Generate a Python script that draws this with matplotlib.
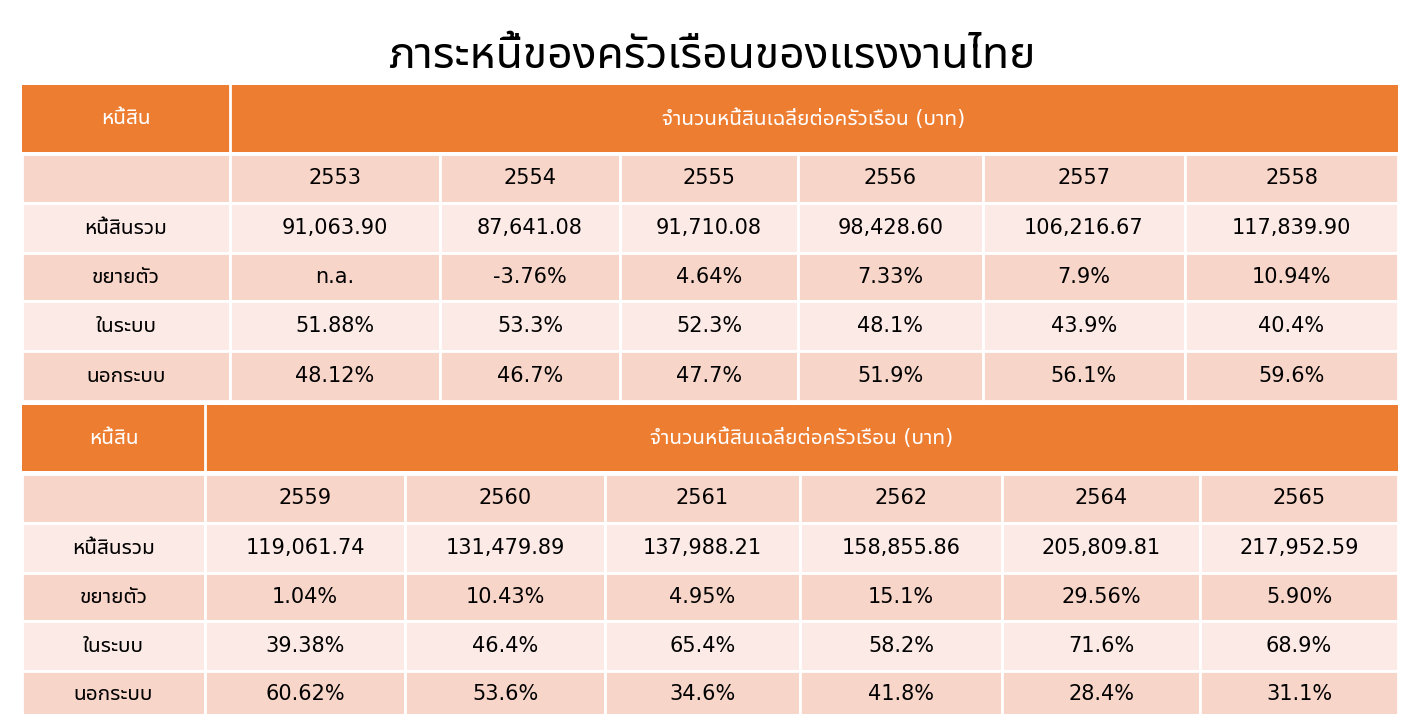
import matplotlib
matplotlib.use("Agg")
import matplotlib.pyplot as plt
from matplotlib import font_manager
from matplotlib.ft2font import FT2Font
from matplotlib.patches import Rectangle


def find_thai_font():
    # pick an installed font that has Thai glyphs, preferring proportional sans fonts
    found = []
    for path in font_manager.findSystemFonts():
        try:
            cmap = FT2Font(path).get_charmap()
        except Exception:
            continue
        if 0x0E01 in cmap and 0x0E49 in cmap and 0x0E35 in cmap:
            name = font_manager.FontProperties(fname=path).get_name()
            low = (name + path).lower()
            score = 0
            for good in ("noto sans thai", "sarabun", "loma", "garuda", "kinnari", "tlwg", "noto"):
                if good in low:
                    score += 5
            for bad in ("mono", "console", "typewriter", "fixed", "unifont", "terminal"):
                if bad in low:
                    score -= 10
            found.append((score, name))
    if not found:
        return None
    found.sort(reverse=True)
    return found[0][1]


thai = find_thai_font()
families = ['DejaVu Sans'] + ([thai] if thai else [])
plt.rcParams['font.family'] = families

title = "ภาระหนี้ของครัวเรือนของแรงงานไทย"
header_left = "หนี้สิน"
header_right = "จำนวนหนี้สินเฉลี่ยต่อครัวเรือน (บาท)"
row_labels = ["หนี้สินรวม", "ขยายตัว", "ในระบบ", "นอกระบบ"]

years_1 = ["2553", "2554", "2555", "2556", "2557", "2558"]
debt_1 = ["91,063.90", "87,641.08", "91,710.08", "98,428.60", "106,216.67", "117,839.90"]
growth_1 = ["n.a.", "-3.76%", "4.64%", "7.33%", "7.9%", "10.94%"]
formal_1 = ["51.88%", "53.3%", "52.3%", "48.1%", "43.9%", "40.4%"]
informal_1 = ["48.12%", "46.7%", "47.7%", "51.9%", "56.1%", "59.6%"]

years_2 = ["2559", "2560", "2561", "2562", "2564", "2565"]
debt_2 = ["119,061.74", "131,479.89", "137,988.21", "158,855.86", "205,809.81", "217,952.59"]
growth_2 = ["1.04%", "10.43%", "4.95%", "15.1%", "29.56%", "5.90%"]
formal_2 = ["39.38%", "46.4%", "65.4%", "58.2%", "71.6%", "68.9%"]
informal_2 = ["60.62%", "53.6%", "34.6%", "41.8%", "28.4%", "31.1%"]

ORANGE = "#ED7D31"
DARK = "#F8D5C9"
LIGHT = "#FBEAE6"

fig = plt.figure(figsize=(14.1, 7.14), dpi=100)
ax = fig.add_axes([0, 0, 1, 1])
ax.set_xlim(0, 1410)
ax.set_ylim(714, 0)
ax.axis('off')

ax.text(712, 55, title, ha='center', va='center', fontsize=32, fontweight='bold')


def draw_table(cols, rows_y, years, debt, growth, formal, informal):
    # header
    y0, y1 = rows_y[0]
    ax.add_patch(Rectangle((cols[0], y0), cols[-1] - cols[0], y1 - y0, color=ORANGE, lw=0))
    ax.plot([cols[1], cols[1]], [y0, y1], color='white', lw=2)
    ax.text((cols[0] + cols[1]) / 2, (y0 + y1) / 2, header_left, color='white',
            ha='center', va='center', fontsize=15)
    ax.text((cols[1] + cols[-1]) / 2, (y0 + y1) / 2, header_right, color='white',
            ha='center', va='center', fontsize=15)
    body = [[""] + years] + [[lab] + vals for lab, vals in
                              zip(row_labels, [debt, growth, formal, informal])]
    for r, (row, (ya, yb)) in enumerate(zip(body, rows_y[1:])):
        fc = DARK if r % 2 == 0 else LIGHT
        for c, txt in enumerate(row):
            xa, xb = cols[c], cols[c + 1]
            ax.add_patch(Rectangle((xa, ya), xb - xa, yb - ya, facecolor=fc,
                                   edgecolor='white', lw=2))
            ax.text((xa + xb) / 2, (ya + yb) / 2, txt, ha='center', va='center',
                    fontsize=15, color='black')


draw_table([22, 230, 440, 620, 798, 983, 1185, 1398],
           [(85, 152), (154, 203), (203, 253), (253, 301), (301, 351), (351, 401)],
           years_1, debt_1, growth_1, formal_1, informal_1)
draw_table([22, 205, 405, 605, 800, 1002, 1200, 1398],
           [(405, 471), (474, 523), (523, 573), (573, 621), (621, 671), (671, 716)],
           years_2, debt_2, growth_2, formal_2, informal_2)

fig.savefig("out.png", dpi=100)
